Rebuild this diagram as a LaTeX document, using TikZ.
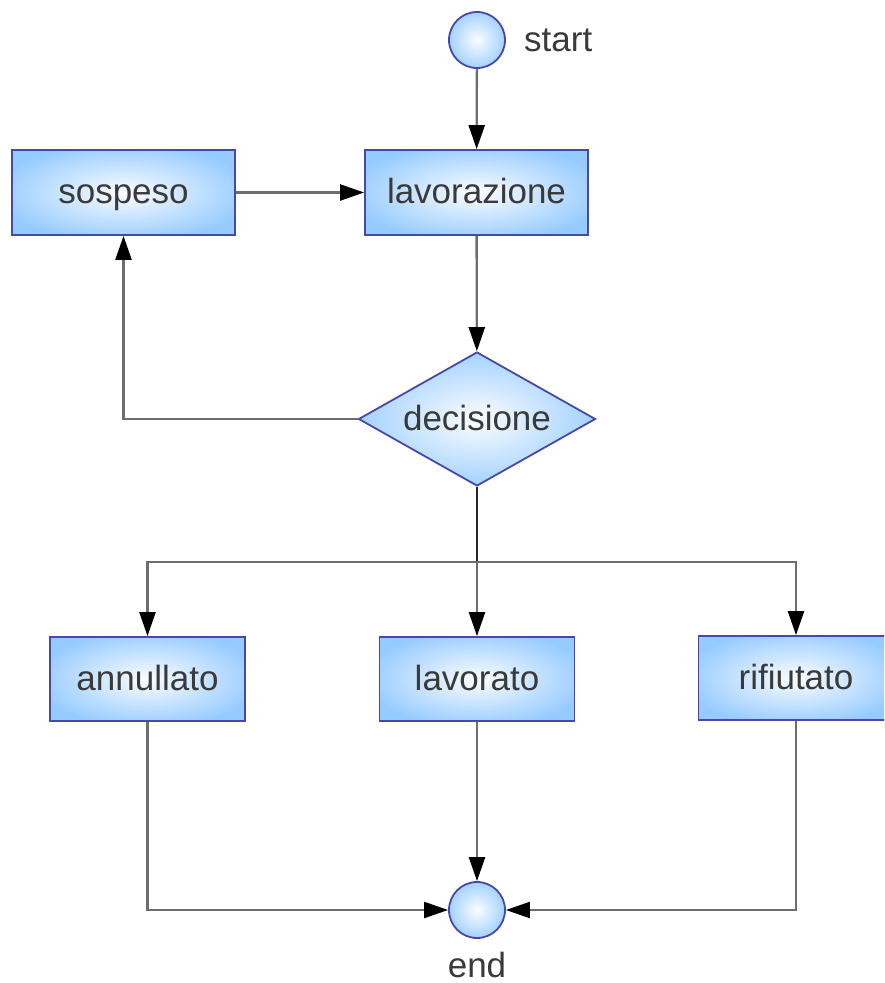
\documentclass[tikz,border=0pt]{standalone}
\usepackage{fontspec}
\setmainfont{Liberation Sans}
\usetikzlibrary{arrows.meta,shapes.geometric}

\definecolor{nodeblue}{RGB}{150,203,255}
\definecolor{nodeedge}{RGB}{72,72,170}
\definecolor{flowline}{RGB}{110,110,110}
\definecolor{labeltext}{RGB}{58,58,58}

% soft glow: white centre fading to light blue
\pgfdeclareradialshading{nodeglow}{\pgfpoint{0bp}{0bp}}{%
  color(0bp)=(white!96!nodeblue); color(29bp)=(nodeblue); color(50bp)=(nodeblue)}

\tikzset{
  base/.style={draw=nodeedge, line width=1.8pt, shading=nodeglow,
    text=labeltext, font=\fontsize{35}{40}\selectfont, inner sep=0pt,
    text height=26pt, text depth=4pt},
  stepbox/.style={base, rectangle, minimum width=195pt, minimum height=84pt},
  widebox/.style={base, rectangle, minimum width=223pt, minimum height=85pt},
  choice/.style={base, diamond, aspect=1.77, minimum width=237pt, minimum height=134pt},
  terminal/.style={base, circle, minimum size=56pt},
  caption/.style={text=labeltext, font=\fontsize{35}{40}\selectfont, inner sep=0pt},
  flow/.style={draw=flowline, line width=2.3pt},
  arrow/.style={flow, -{Triangle[length=24pt 0 0, width=16pt 0 0, color=black]}},
}

\begin{document}
\begin{tikzpicture}[x=1pt, y=-1pt]
  \useasboundingbox (0,0) rectangle (884,983);
  \clip (0,0) rectangle (884,983);

  % nodes
  \node[terminal] (start) at (477,40) {};
  \node[caption, anchor=west] (startlabel) at (524,40) {start};
  \node[widebox] (lav) at (476.5,192.5) {lavorazione};
  \node[widebox] (sosp) at (123.5,192.5) {sospeso};
  \node[choice] (dec) at (477,419) {decisione};
  \coordinate (split) at (477,562);
  \node[stepbox] (ann) at (147.5,679) {annullato};
  \node[stepbox] (lavd) at (477,679) {lavorato};
  \node[stepbox] (rif) at (796,678) {rifiutato};
  \node[terminal] (end) at (477,910) {};
  \node[caption] (endlabel) at (477,965) {end};

  % connectors
  \draw[arrow] (start) -- (lav);
  \draw[arrow] (sosp) -- (lav);
  \draw[arrow] (lav) -- (dec);
  \draw[arrow] (dec.west) -| (sosp.south);
  \draw[flow, draw=black!85] (dec.south) -- (split);
  \draw[arrow] (split) -| (ann.north);
  \draw[arrow] (split) -- (lavd.north);
  \draw[arrow] (split) -| (rif.north);
  \draw[arrow] (ann.south) |- (end.west);
  \draw[arrow] (lavd.south) -- (end.north);
  \draw[arrow] (rif.south) |- (end.east);
\end{tikzpicture}
\end{document}
